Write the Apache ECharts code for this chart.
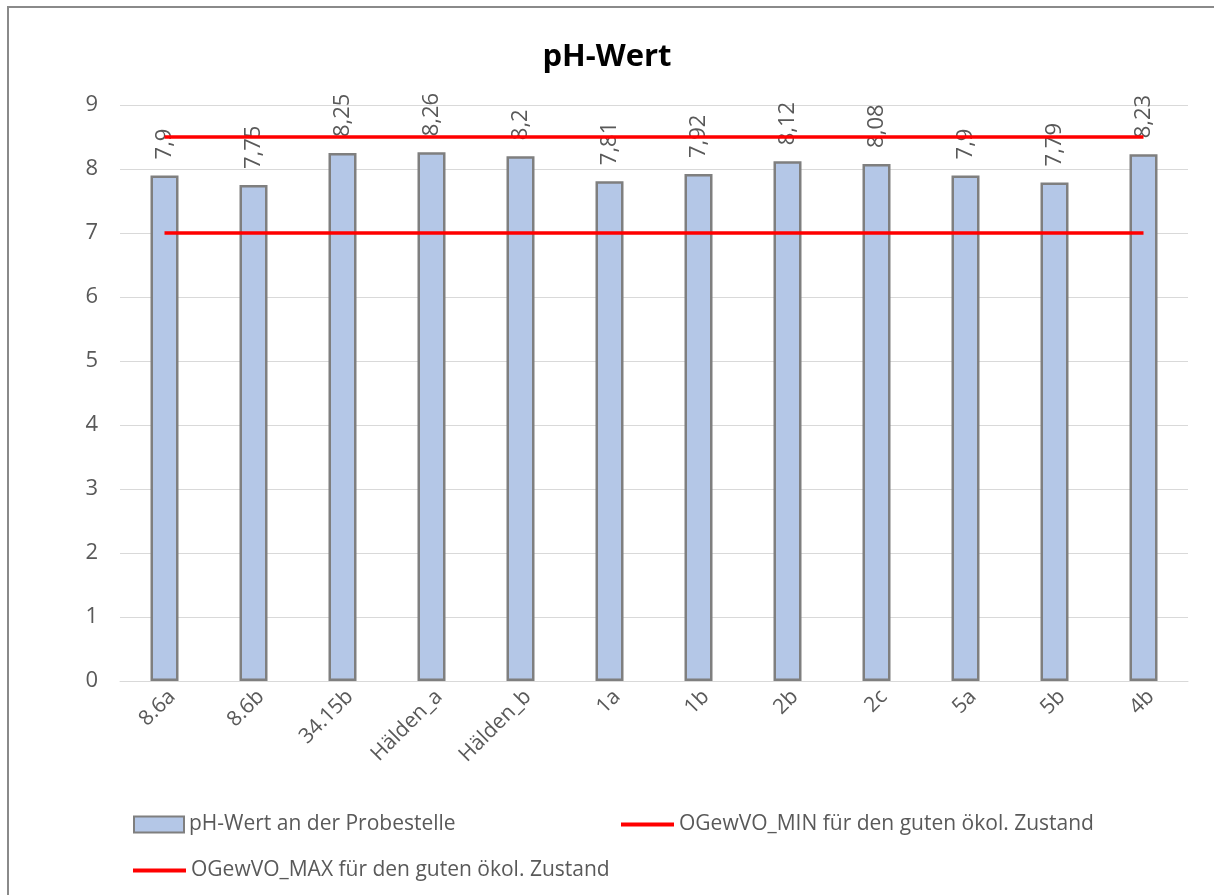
<!DOCTYPE html>
<html>
<head>
<meta charset="utf-8">
<script src="https://cdn.jsdelivr.net/npm/echarts@6/dist/echarts.min.js"></script>
<style>
html,body{margin:0;padding:0;background:#fff;}
#chart{width:1214px;height:895px;}
</style>
</head>
<body>
<div id="chart"></div>
<script>
const categories = ['8.6a','8.6b','34.15b','Hälden_a','Hälden_b','1a','1b','2b','2c','5a','5b','4b'];
const phValues = [7.9, 7.75, 8.25, 8.26, 8.2, 7.81, 7.92, 8.12, 8.08, 7.9, 7.79, 8.23];
const minValues = [7, 7, 7, 7, 7, 7, 7, 7, 7, 7, 7, 7];
const maxValues = [8.5, 8.5, 8.5, 8.5, 8.5, 8.5, 8.5, 8.5, 8.5, 8.5, 8.5, 8.5];
const yTicks = [0, 1, 2, 3, 4, 5, 6, 7, 8, 9];

const seriesNames = ['pH-Wert an der Probestelle', 'OGewVO_MIN für den guten ökol. Zustand', 'OGewVO_MAX für den guten ökol. Zustand'];
const font = '"Open Sans", "Noto Sans", sans-serif';
const txt = '#595959';
const legendText = { fontFamily: font, fontSize: 21, color: txt };

const chart = echarts.init(document.getElementById('chart'));
chart.setOption({
  animation: false,
  backgroundColor: '#ffffff',
  textStyle: { fontFamily: font },
  graphic: [{
    type: 'rect', silent: true,
    shape: { x: 8, y: 7, width: 1400, height: 1100 },
    style: { fill: 'none', stroke: '#8a8a8a', lineWidth: 2 }
  }],
  title: {
    text: 'pH-Wert', left: 'center', top: 37,
    textStyle: { fontFamily: font, fontSize: 31, fontWeight: 'bold', color: '#000' }
  },
  legend: [
    { data: [{ name: seriesNames[0], icon: 'rect' }], left: 133, top: 814, padding: 0,
      itemWidth: 50, itemHeight: 16, itemGap: 5, textStyle: legendText },
    { data: [{ name: seriesNames[1], icon: 'rect' }], left: 621, top: 814, padding: 0,
      itemWidth: 53, itemHeight: 4, itemGap: 5, textStyle: legendText },
    { data: [{ name: seriesNames[2], icon: 'rect' }], left: 133, top: 860, padding: 0,
      itemWidth: 53, itemHeight: 4, itemGap: 5, textStyle: legendText }
  ],
  grid: { left: 120, right: 26, top: 105, bottom: 214, containLabel: false },
  xAxis: {
    type: 'category', data: categories, boundaryGap: true,
    axisLine: { show: true, lineStyle: { color: '#d9d9d9', width: 1 } },
    axisTick: { show: false },
    axisLabel: { rotate: 45, fontFamily: font, fontSize: 21, color: txt, margin: 5,
      verticalAlign: 'top', interval: 0 }
  },
  yAxis: {
    type: 'value', min: yTicks[0], max: yTicks[yTicks.length - 1], interval: 1,
    axisLine: { show: false }, axisTick: { show: false },
    splitLine: { lineStyle: { color: '#d9d9d9', width: 1 } },
    axisLabel: { fontFamily: font, fontSize: 22, color: txt, margin: 22 }
  },
  series: [
    {
      name: seriesNames[0], type: 'bar', data: phValues, barWidth: 28,
      itemStyle: { color: '#b4c7e7', borderColor: '#7f7f7f', borderWidth: 2.5 },
      label: {
        show: true, position: 'top', rotate: 90, align: 'left', verticalAlign: 'middle',
        distance: 16, fontFamily: font, fontSize: 22, color: txt,
        formatter: p => String(p.value).replace('.', ',')
      },
      z: 2
    },
    {
      name: seriesNames[1], type: 'line', data: minValues, symbol: 'none',
      lineStyle: { color: '#ff0000', width: 3.5 }, itemStyle: { color: '#ff0000' }, z: 3
    },
    {
      name: seriesNames[2], type: 'line', data: maxValues, symbol: 'none',
      lineStyle: { color: '#ff0000', width: 3.5 }, itemStyle: { color: '#ff0000' }, z: 3
    }
  ]
});
</script>
</body>
</html>
